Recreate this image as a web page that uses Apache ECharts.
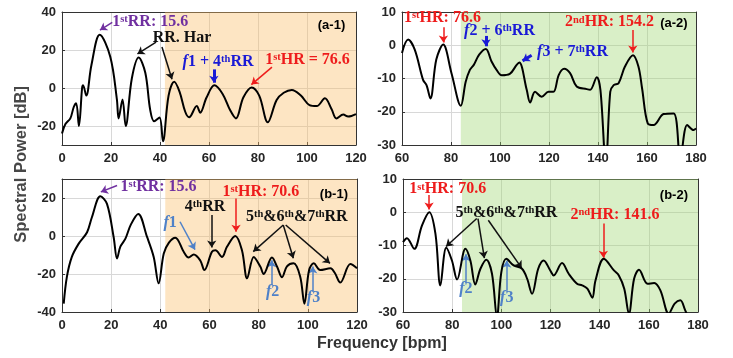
<!DOCTYPE html>
<html>
<head>
<meta charset="utf-8">
<script src="https://cdn.jsdelivr.net/npm/echarts@6/dist/echarts.min.js"></script>
<style>html,body{margin:0;padding:0;background:#fff}#c{width:733px;height:358px}</style>
</head>
<body>
<div id="c"></div>
<script>
// ---------- data ----------
const a1Freq = [0,1.4,3.4,4.8,5.8,6.9,8.2,8.6,9.9,12,15.4,19.7,22.4,23.1,24.7,26,28.5,31.3,34,36,37.6,39.8,41.2,43.5,45.8,48,50.3,51.9,55,56.4,59,62.2,65.5,68.6,71,74,77.4,80.5,84,87.6,90.5,93.8,97.5,101,104,107.3,110,112,114.8,116.8,120];
const a1Power = [-24,-19,-16,-10,-8,-20,0,1.5,-4,12,28,16.5,-6,-16,-6,-20,5,16,8,-11.5,-17.5,-15.5,-28,-4,3.3,-2,-12.5,-15.4,-9.5,-13,-5,1.4,-3,-11.6,-16,-5,0.3,-4,-18,-6.3,-2.5,-1,-4,-9,-9.5,-5.4,-11,-16,-14,-15,-13.7];

const a2Freq = [60,62.5,65.2,68.6,70,71.6,74,76.8,80.2,84,86,87.7,89.3,91.5,94.2,96.5,98.6,100.7,104,106.8,107.9,110.9,112.3,114.3,117,119.8,121.8,124,126.2,128.6,131.3,135.4,136.8,139.5,141,143.2,145,146.4,148.4,151,154.3,156.5,158,160.3,162.7,166.8,170.9,173.6,176.4,179,180];
const a2Power = [-2.3,1.7,-1.3,-10.4,-12,-16,-4.3,0.2,-8.4,-18.2,-11,-7.4,-5.9,-2.8,-1.1,-4.8,-7.4,-9,-8.6,-5.9,-5.2,-13.4,-17.2,-14,-15.5,-14,-14,-8.9,-7.1,-8.4,-12.4,-13.2,-13.4,-9.6,-13.5,-36,-14,-12,-11.4,-6.4,-3,-6.4,-13,-23.5,-24,-20.7,-20.5,-34,-24,-25.5,-25];

const b1Freq = [0.7,2,4,6.8,10.2,12.2,15.6,18.3,21,22.4,23.7,25.8,28,31,34.6,37.3,39.3,41.4,43.5,46.1,49.5,51.5,53.6,56.3,57.9,61,62.4,65.1,67.1,70.5,73.2,75.3,78,80.7,82,85.4,87.5,89.5,91.5,94.2,96.9,98.6,100.5,102.4,105,109.2,111,113.2,117.3,120];
const b1Power = [-35.6,-21.4,-11,-4,2,10,20.9,16.9,-0.5,-11.8,-5.7,-1.4,6,11.6,-0.5,-11,-24.9,-9.2,-3.5,-0.9,-8.3,-11.3,-9.7,-13,-17.9,-8.3,-7.5,-11,-5.7,0,-7.5,-22.3,-11,-16.2,-20,-11.3,-16.2,-21.7,-16,-14.4,-21.4,-35.6,-18,-14.4,-17.9,-17,-19.5,-24.5,-14.8,-17];

const b2Freq = [60,61.6,64.6,67.7,70.7,73.2,75.2,77.6,79.9,82,85.4,87.4,89.4,91.5,93.9,96.2,98.2,100,102,105,108.4,110.5,112.5,115,117.2,119.9,121.3,124.7,127.4,130.8,132.9,135,137,138.3,141.7,145.8,147.8,150,151.9,154,156,159.5,162.2,164.7,168.1,170.5,172.8,174.8,177,180];
const b2Power = [-9,-7.8,-11,-4,0,-6.5,-22,-10.7,-14.5,-20.2,-11,-14.5,-21.7,-17,-14.3,-18.5,-31.5,-18,-14,-16,-17,-20,-24.5,-17,-14.5,-17.5,-19,-15.3,-18.5,-21.5,-22,-23,-25.7,-20.5,-14,-17.5,-19,-23,-30.5,-20,-17.3,-21.5,-21.3,-23.5,-30.5,-27.5,-26.5,-29.5,-33,-35];

// axis ranges and tick labels
const xTicksLeft = [0,20,40,60,80,100,120];
const xTicksRight = [60,80,100,120,140,160,180];
const yTicksA1 = [-20,0,20,40];
const yTicksB1 = [-40,-20,0,20];
const yTicksRight = [-30,-20,-10,0,10];

// shaded bands [from, to]
const bandA1 = [42,120], bandA2 = [84,180], bandB1 = [42,120], bandB2 = [84,180];

// annotations: [label(rich), x, y, colorKey]
const textsA1 = [
  ['{n|1}{s|st}{n|RR: 15.6}', 36, 34.6, 'purple'],
  ['{n|RR. Har}', 49, 26.3, 'black'],
  ['{i|f}{n|1 + 4}{s|th}{n|RR}', 63.7, 13.7, 'blue'],
  ['{n|1}{s|st}{n|HR = 76.6}', 100.2, 14.7, 'red'],
  ['{p|(a-1)}', 110, 33, 'black']
];
const arrowsA1 = [ // [x1,y1,x2,y2,colorKey,width,curveness]
  [20.5,34.5,15.5,30.5,'purple',1.5,0.45],
  [38.4,24.2,30.8,17.9,'black',1.5,0],
  [40.8,21.6,44.9,4.6,'black',1.5,0],
  [62,9.8,62,2.8,'blue',3,0],
  [85.7,11,77.3,1.8,'red',1.5,0]
];
const textsA2 = [
  ['{n|1}{s|st}{n|HR: 76.6}', 76.5, 8.2, 'red'],
  ['{i|f}{n|2 + 6}{s|th}{n|RR}', 99.8, 4.3, 'blue'],
  ['{i|f}{n|3 + 7}{s|th}{n|RR}', 129.6, -1.9, 'blue'],
  ['{n|2}{s|nd}{n|HR: 154.2}', 144.7, 6.9, 'red'],
  ['{p|(a-2)}', 171, 6.7, 'black']
];
const arrowsA2 = [
  [76.9,5.4,76.9,0.8,'red',1.5,0],
  [94.3,2.8,94.3,-0.3,'blue',3,0],
  [112.9,-3,109.2,-4.7,'blue',3,0],
  [154.2,4.6,154.2,-2.2,'red',1.5,0]
];
const textsB1 = [
  ['{n|1}{s|st}{n|RR: 15.6}', 39.3, 25.9, 'purple'],
  ['{n|1}{s|st}{n|HR: 70.6}', 80.9, 23.3, 'red'],
  ['{p|(b-1)}', 110.6, 22.1, 'black'],
  ['{n|4}{s|th}{n|RR}', 58.2, 15.4, 'black'],
  ['{i|f}{n|1}', 44, 6.7, 'lblue'],
  ['{n|5}{s|th}{n|&6}{s|th}{n|&7}{s|th}{n|RR}', 95.5, 10.2, 'black'],
  ['{i|f}{n|2}', 85.7, -29.3, 'lblue'],
  ['{i|f}{n|3}', 102.3, -32.8, 'lblue']
];
const arrowsB1 = [
  [22.4,26.6,15.8,23.2,'purple',1.5,0.45],
  [70.8,19.8,70.8,2.3,'red',1.5,0],
  [60.9,11,60.9,-6,'black',1.5,0],
  [48,7.5,54.1,-7.2,'lblue',1.5,-0.5],
  [90,5.8,77.8,-8.2,'black',1.5,0],
  [90,5.8,94.1,-11.7,'black',1.5,0],
  [91,5.8,109,-14.4,'black',1.5,0],
  [85.3,-25.8,85.3,-12.8,'lblue',1.5,0],
  [102,-29.3,102,-16,'lblue',1.5,0]
];
const textsB2 = [
  ['{n|1}{s|st}{n|HR: 70.6}', 78.2, 6.9, 'red'],
  ['{p|(b-2)}', 170.2, 5.2, 'black'],
  ['{n|5}{s|th}{n|&6}{s|th}{n|&7}{s|th}{n|RR}', 102.1, -0.1, 'black'],
  ['{n|2}{s|nd}{n|HR: 141.6}', 146.2, -0.9, 'red'],
  ['{i|f}{n|2}', 85.6, -23.1, 'lblue'],
  ['{i|f}{n|3}', 102.2, -25.7, 'lblue']
];
const arrowsB2 = [
  [70.6,5.2,70.6,0.8,'red',1.5,0],
  [90,-1.9,77.5,-10.3,'black',1.5,0],
  [90.5,-1.9,93.1,-13.8,'black',1.5,0],
  [94.7,-2.4,108.3,-16.8,'black',1.5,0],
  [141.5,-3.4,141.5,-13.7,'red',1.5,0],
  [85.6,-21.1,85.6,-12.6,'lblue',1.5,0],
  [102.2,-23.6,102.2,-14.6,'lblue',1.5,0]
];

// ---------- styling ----------
const COLORS = {purple:'#7030a0', red:'#ee1c1c', blue:'#1a1ad6', lblue:'#4f81c8', black:'#111111'};
const ORANGE = 'rgba(250,190,105,0.4)';
const GREEN = 'rgba(160,215,115,0.4)';
const SERIF = '"Liberation Serif", "DejaVu Serif", serif';
const SANS = '"Liberation Sans", Arial, sans-serif';

function rich(color) {
  return {
    n: {fontFamily: SERIF, fontWeight: 'bold', fontSize: 16, color: color, verticalAlign: 'bottom'},
    s: {fontFamily: SERIF, fontWeight: 'bold', fontSize: 10.5, color: color, verticalAlign: 'top'},
    i: {fontFamily: SERIF, fontWeight: 'bold', fontStyle: 'italic', fontSize: 16, color: color, verticalAlign: 'bottom'},
    p: {fontFamily: SANS, fontWeight: 'bold', fontSize: 13, color: '#000'}
  };
}

const grids = [
  {left: 62, top: 12, width: 294, height: 133},
  {left: 402, top: 12, width: 294, height: 133},
  {left: 62, top: 179, width: 295, height: 133},
  {left: 403, top: 179, width: 295, height: 133}
];

const xRanges = [[0,120,xTicksLeft],[60,180,xTicksRight],[0,120,xTicksLeft],[60,180,xTicksRight]];
const yRanges = [[-30,40,yTicksA1],[-30,10,yTicksRight],[-40,30,yTicksB1],[-30,10,yTicksRight]];

const labelStyle = {fontFamily: SANS, fontWeight: 'bold', fontSize: 13, color: '#262626'};
const xAxes = [], yAxes = [];
for (let i = 0; i < 4; i++) {
  const [xmin, xmax, xt] = xRanges[i];
  const [ymin, ymax, yt] = yRanges[i];
  xAxes.push({
    type: 'value', gridIndex: i, min: xmin, max: xmax, interval: 20, position: 'bottom',
    axisLine: {show: true, onZero: false, lineStyle: {color: '#333', width: 1}},
    axisTick: {show: true, inside: true, length: 3, lineStyle: {color: '#333'}},
    axisLabel: Object.assign({margin: 7, customValues: xt}, labelStyle),
    splitLine: {show: true, lineStyle: {color: '#d8d8d8', width: 1}}
  });
  yAxes.push({
    type: 'value', gridIndex: i, min: ymin, max: ymax, interval: 10, position: 'left',
    axisLine: {show: true, onZero: false, lineStyle: {color: '#333', width: 1}},
    axisTick: {show: true, inside: true, length: 3, customValues: yt, lineStyle: {color: '#333'}},
    axisLabel: Object.assign({margin: 6, customValues: yt}, labelStyle),
    splitLine: {show: true, lineStyle: {color: '#d8d8d8', width: 1}}
  });
}
for (let i = 0; i < 4; i++) {
  const [xmin, xmax] = xRanges[i];
  const [ymin, ymax] = yRanges[i];
  xAxes.push({type: 'value', gridIndex: i, min: xmin, max: xmax, position: 'top',
    axisLine: {show: true, onZero: false, lineStyle: {color: '#333', width: 1}},
    axisTick: {show: false}, axisLabel: {show: false}, splitLine: {show: false}});
  yAxes.push({type: 'value', gridIndex: i, min: ymin, max: ymax, position: 'right',
    axisLine: {show: true, onZero: false, lineStyle: {color: '#333', width: 1}},
    axisTick: {show: false}, axisLabel: {show: false}, splitLine: {show: false}});
}

function pairs(xs, ys) { return xs.map((x, k) => [x, ys[k]]); }

function makeSeries(i, xs, ys, band, bandColor, texts, arrows) {
  return {
    type: 'line', xAxisIndex: i, yAxisIndex: i,
    data: pairs(xs, ys), smooth: 0.35, showSymbol: false, clip: true,
    lineStyle: {color: '#000', width: 2}, z: 5,
    markArea: {silent: true, itemStyle: {color: bandColor}, data: [[{xAxis: band[0]}, {xAxis: band[1]}]]},
    markLine: {
      silent: true, symbol: ['none', 'arrow'], symbolSize: 7, label: {show: false},
      data: arrows.map(a => [
        {coord: [a[0], a[1]], lineStyle: {color: COLORS[a[4]], width: a[5], type: 'solid', curveness: a[6]}},
        {coord: [a[2], a[3]]}
      ])
    },
    markPoint: {
      silent: true, symbol: 'circle', symbolSize: 1, itemStyle: {color: 'rgba(0,0,0,0)'},
      data: texts.map(t => ({
        coord: [t[1], t[2]], value: 0,
        label: {show: true, position: 'inside', align: 'center', verticalAlign: 'middle',
          formatter: t[0], rich: rich(COLORS[t[3]])}
      }))
    }
  };
}

const chart = echarts.init(document.getElementById('c'), null, {renderer: 'canvas'});
chart.setOption({
  animation: false,
  backgroundColor: '#fff',
  grid: grids,
  xAxis: xAxes,
  yAxis: yAxes,
  series: [
    makeSeries(0, a1Freq, a1Power, bandA1, ORANGE, textsA1, arrowsA1),
    makeSeries(1, a2Freq, a2Power, bandA2, GREEN, textsA2, arrowsA2),
    makeSeries(2, b1Freq, b1Power, bandB1, ORANGE, textsB1, arrowsB1),
    makeSeries(3, b2Freq, b2Power, bandB2, GREEN, textsB2, arrowsB2)
  ],
  graphic: [
    {type: 'text', left: 13, top: 86, rotation: Math.PI / 2,
      style: {text: 'Spectral Power [dB]', fontFamily: SANS, fontWeight: 'bold', fontSize: 16.5, fill: '#474747'}},
    {type: 'text', left: 317, top: 336,
      style: {text: 'Frequency [bpm]', fontFamily: SANS, fontWeight: 'bold', fontSize: 16, fill: '#333'}}
  ]
});
</script>
</body>
</html>
